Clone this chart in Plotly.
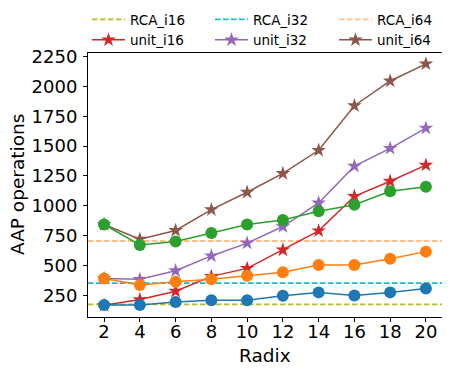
import plotly.graph_objects as go

# Data
radix = [2, 4, 6, 8, 10, 12, 14, 16, 18, 20]

rca_i16 = 176
rca_i32 = 354
rca_i64 = 706

unit_i16 = [168, 216, 286, 410, 477, 631, 791, 1080, 1206, 1341]
unit_i32 = [393, 385, 457, 581, 688, 827, 1024, 1332, 1481, 1650]
unit_i64 = [844, 721, 794, 968, 1114, 1271, 1465, 1838, 2045, 2188]

circ_blue = [170, 170, 196, 210, 210, 247, 276, 250, 276, 309]
circ_orange = [393, 337, 364, 385, 415, 444, 505, 505, 558, 617]
circ_green = [844, 673, 701, 772, 844, 881, 954, 1010, 1122, 1159]

# page body has an 8px margin, so the figure is drawn 8px smaller
W, H = 442, 366
PW, PH = W - 80 - 8, H - 45 - 57   # plot area size

fig = go.Figure()

# one small legend per column: RCA_* on top row, unit_* below
xspan = [1.1, 20.9]
for name, level, color, leg in [("RCA_i16", rca_i16, "#bcbd22", "legend"),
                                ("RCA_i32", rca_i32, "#17becf", "legend2"),
                                ("RCA_i64", rca_i64, "#ffbf86", "legend3")]:
    fig.add_trace(go.Scatter(x=xspan, y=[level, level], mode="lines", name=name, legend=leg,
                             line=dict(color=color, width=1.8, dash="5.5px,2.5px")))

for name, vals, color, leg in [("unit_i16", unit_i16, "#d62728", "legend"),
                               ("unit_i32", unit_i32, "#9467bd", "legend2"),
                               ("unit_i64", unit_i64, "#8c564b", "legend3")]:
    fig.add_trace(go.Scatter(x=radix, y=vals, mode="lines+markers", name=name, legend=leg,
                             line=dict(color=color, width=1.5),
                             marker=dict(symbol="star", size=11, color=color)))

for vals, color in [(circ_blue, "#1f77b4"), (circ_orange, "#ff7f0e"), (circ_green, "#2ca02c")]:
    fig.add_trace(go.Scatter(x=radix, y=vals, mode="lines+markers", showlegend=False,
                             line=dict(color=color, width=1.5),
                             marker=dict(symbol="circle", size=12, color=color)))

axis_style = dict(showline=True, linecolor="black", linewidth=1, mirror=True,
                  ticks="outside", ticklen=4, tickcolor="black", showgrid=False,
                  zeroline=False, tickfont=dict(size=18, color="black"))

fig.update_xaxes(range=[1.1, 20.9], tickvals=radix, ticklabelstandoff=-6, **axis_style)
fig.update_yaxes(range=[70, 2279], tickvals=[250, 500, 750, 1000, 1250, 1500, 1750, 2000, 2250],
                 ticklabelstandoff=2, **axis_style)

# axis titles as annotations (native y title misplaces with fixed margins)
fig.add_annotation(text="Radix", xref="paper", yref="paper", x=0.5, y=-38.7 / PH,
                   xanchor="center", yanchor="middle", showarrow=False,
                   font=dict(size=18.5, color="black"))
fig.add_annotation(text="AAP operations", xref="paper", yref="paper", x=-71 / PW, y=0.5,
                   xanchor="center", yanchor="middle", showarrow=False, textangle=-90,
                   font=dict(size=18.5, color="black"))

# legends sit above the plot area, in paper units
leg_style = dict(orientation="v", xref="container", yref="paper", y=1 + 49 / PH,
                 xanchor="left", yanchor="top", tracegroupgap=0, itemwidth=33,
                 font=dict(size=13.5), bgcolor="rgba(0,0,0,0)")

fig.update_layout(
    width=W, height=H,
    margin=dict(l=80, r=8, t=45, b=57, autoexpand=False),
    plot_bgcolor="white", paper_bgcolor="white",
    font=dict(family="DejaVu Sans", color="black"),
    legend=dict(x=79 / W, **leg_style),
    legend2=dict(x=202 / W, **leg_style),
    legend3=dict(x=326 / W, **leg_style),
)

fig.write_html("out.html")
